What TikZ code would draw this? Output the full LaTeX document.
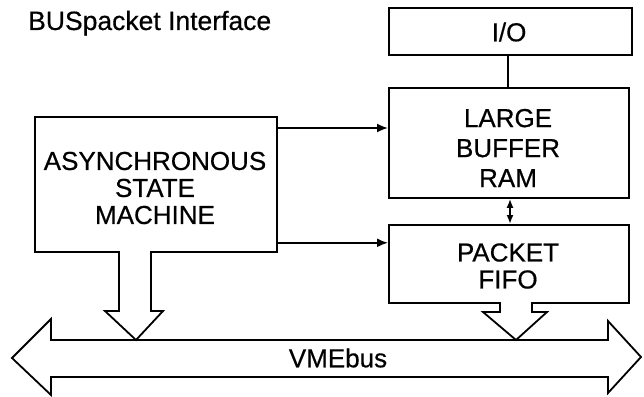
\documentclass[tikz,border=0pt]{standalone}
\usepackage{fontspec}
\setmainfont{Liberation Sans}[FakeBold=0.5]
\usetikzlibrary{arrows.meta}
\begin{document}
\begin{tikzpicture}[x=1pt,y=-1pt,
  box/.style={draw,line width=1.8pt,rectangle,inner sep=0pt,anchor=north west},
  lbl/.style={font=\fontsize{26}{27}\selectfont,inner sep=0pt},
  conn/.style={line width=1.8pt,-{Latex[length=11pt,width=9pt]}},
  hollow/.style={line width=1.8pt,line join=miter,fill=white}]
\useasboundingbox (0,0) rectangle (644,396);
\node[lbl,anchor=base west,font=\fontsize{26.5}{27}\selectfont] (title) at (28,30) {BUSpacket Interface};
\node[box,minimum width=242pt,minimum height=135pt] (asm) at (34,116) {};
\node[lbl,align=center] (asmt) at (155,188) {ASYNCHRONOUS\\STATE\\MACHINE};
\node[box,minimum width=243pt,minimum height=47pt] (io) at (388,7) {};
\node[lbl] (iot) at (509,32) {I/O};
\node[box,minimum width=240pt,minimum height=110pt] (ram) at (388,87) {};
\node[lbl,align=center,font=\fontsize{26}{30}\selectfont] (ramt) at (508,148) {LARGE\\BUFFER\\RAM};
\node[box,minimum width=240pt,minimum height=78pt] (fifo) at (388,224) {};
\node[lbl,align=center] (fifot) at (508,266) {PACKET\\FIFO};
% connectors
\draw[line width=1.8pt] (io.south -| 508,0) -- (ram.north -| 508,0);
\draw[conn] ([yshift=-12pt]asm.north east) -- ([yshift=-12pt]asm.north east -| ram.west);
\draw[conn] ([yshift=10pt]asm.south east) -- ([yshift=10pt]asm.south east -| fifo.west);
\draw[line width=1.8pt,{Latex[length=9pt,width=7pt]}-{Latex[length=9pt,width=7pt]}] (ram.south -| 510,0) -- (fifo.north -| 510,0);
% VMEbus
\draw[hollow] (12,358) -- (51,319) -- (51,340) -- (608,340) -- (608,321) -- (641,357)
  -- (608,393) -- (608,377) -- (51,377) -- (51,395) -- cycle;
\node[lbl] (bus) at (338,358) {VMEbus};
% hollow down arrows
\draw[hollow] (119,251) -- (119,311) -- (105,311) -- (136,340) -- (163,311) -- (151,311) -- (151,251);
\draw[hollow] (500,302) -- (500,312) -- (483,312) -- (516,340) -- (547,312) -- (532,312) -- (532,302);
\end{tikzpicture}
\end{document}
